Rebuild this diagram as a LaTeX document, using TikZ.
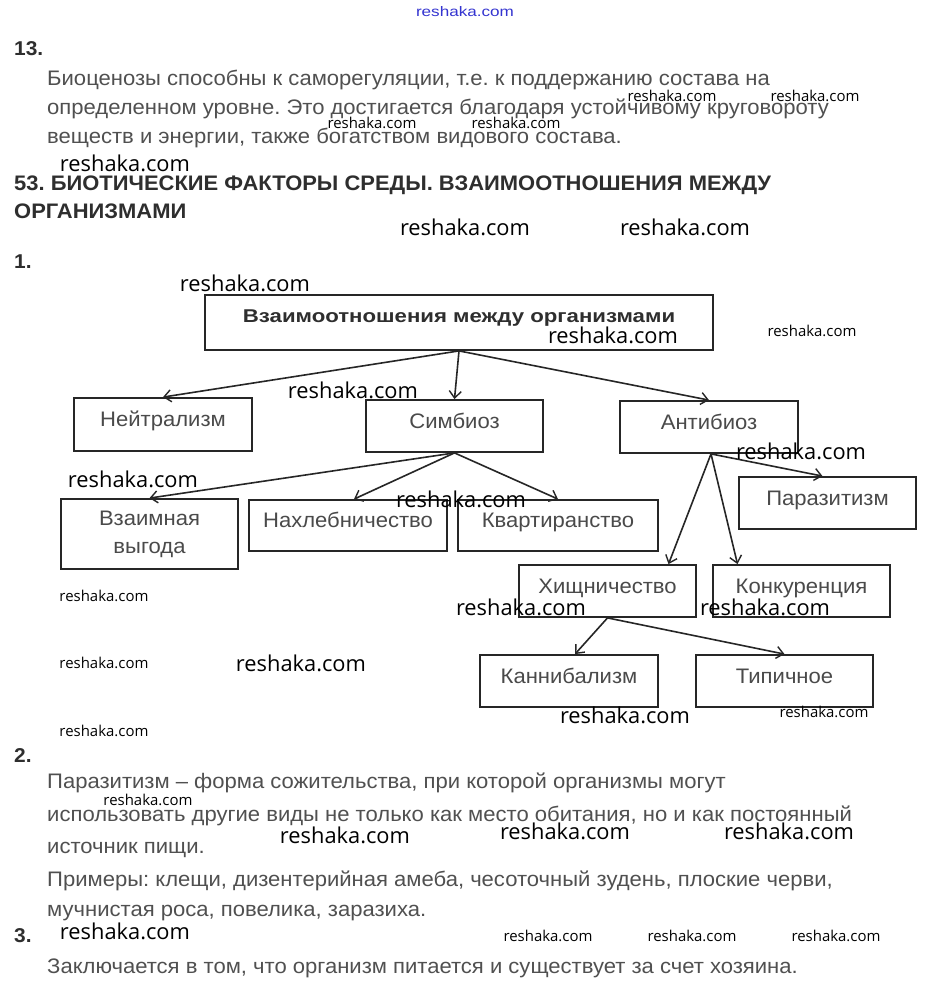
\documentclass[tikz,border=0pt]{standalone}
\usepackage{fontspec}
\setmainfont{Liberation Sans}
\newfontfamily\bodyfont[FakeStretch=1.05]{Liberation Sans}
\newfontfamily\headfont[FakeStretch=1.045]{Liberation Sans}
\newfontfamily\topfont[FakeStretch=1.2]{Liberation Sans}
\newfontfamily\boxfont[FakeStretch=1.05]{Liberation Sans}
\newfontfamily\wmfont{Open Sans}
\usetikzlibrary{arrows.meta,calc}
\definecolor{txtc}{HTML}{505050}
\definecolor{headc}{HTML}{2E2E2E}
\definecolor{edgec}{HTML}{262626}
\definecolor{boxtxt}{HTML}{4A4A4A}
\definecolor{wmblue}{HTML}{3434D0}
\newcommand\wmL[2]{\node[wm] (#1) at (#2) {\resizebox{130pt}{!}{reshaka.com}};}
\newcommand\wmS[2]{\node[wm] (#1) at (#2) {\resizebox{89pt}{!}{reshaka.com}};}
\begin{document}
\frenchspacing
\begin{tikzpicture}[x=1pt,y=-1pt,
  body/.style={anchor=base west,inner sep=0pt,text=txtc,font=\bodyfont\fontsize{21}{24}\selectfont},
  headtxt/.style={anchor=base west,inner sep=0pt,text=headc,font=\headfont\fontsize{21}{24}\selectfont\bfseries},
  num/.style={anchor=base west,inner sep=0pt,text=headc,font=\headfont\fontsize{20}{24}\selectfont\bfseries},
  box/.style={draw=edgec,line width=1.8pt,inner sep=0pt,text=boxtxt,font=\boxfont\fontsize{21}{28}\selectfont,text height=13pt,text depth=9pt},
  box2/.style={draw=edgec,line width=1.8pt,inner sep=0pt,text=boxtxt,font=\boxfont\fontsize{21}{28}\selectfont,align=center},
  arr/.style={draw=edgec,line width=1.6pt,-{Straight Barb[length=7pt,width=12pt,line width=1.4pt]}},
  wm/.style={inner sep=0pt,text=black,font=\wmfont}
]
\useasboundingbox (0,0) rectangle (926,988);
\fill[white] (0,0) rectangle (926,988);

% ---- text top
\node[num] (n13) at (14,55) {13.};
\node[body] (t1) at (47,85) {Биоценозы способны к саморегуляции, т.е. к поддержанию состава на};
\node[body] (t2) at (47,114) {определенном уровне. Это достигается благодаря устойчивому круговороту};
\node[body] (t3) at (47,143) {веществ и энергии, также богатством видового состава.};
\node[headtxt] (h1) at (14,190) {53. БИОТИЧЕСКИЕ ФАКТОРЫ СРЕДЫ. ВЗАИМООТНОШЕНИЯ МЕЖДУ};
\node[headtxt] (h2) at (14,218) {ОРГАНИЗМАМИ};
\node[num] (n1) at (14,268) {1.};

% ---- diagram
\node[box,minimum width=508pt,minimum height=55pt,text=headc,font=\topfont\fontsize{18.5}{24}\selectfont\bfseries,text height=13pt,text depth=13pt] (top) at (459,322.5) {Взаимоотношения между организмами};
\node[box,minimum width=178pt,minimum height=53pt] (neut) at (163,424.5) {Нейтрализм};
\node[box,minimum width=177pt,minimum height=52pt] (symb) at (454.5,426) {Симбиоз};
\node[box,minimum width=178pt,minimum height=52pt] (anti) at (709,427) {Антибиоз};
\node[box2,minimum width=177pt,minimum height=70pt] (mutu) at (149.5,534) {\raisebox{-2pt}{Взаимная}\\\raisebox{-2pt}{выгода}};
\node[box,minimum width=198pt,minimum height=51pt] (nakh) at (348,525.5) {Нахлебничество};
\node[box,minimum width=200pt,minimum height=51pt] (kvar) at (558,525.5) {Квартиранство};
\node[box,minimum width=177pt,minimum height=52pt] (para) at (827.5,503) {Паразитизм};
\node[box,minimum width=177pt,minimum height=52pt] (pred) at (607.5,591) {Хищничество};
\node[box,minimum width=177pt,minimum height=52pt] (comp) at (801.5,591) {Конкуренция};
\node[box,minimum width=178pt,minimum height=52pt] (cann) at (569,681) {Каннибализм};
\node[box,minimum width=177pt,minimum height=52pt] (typi) at (784.5,681) {Типичное};

\draw[arr] (top.south) -- (neut.north);
\draw[arr] (top.south) -- (symb.north);
\draw[arr] (top.south) -- (anti.north);
\draw[arr] (symb.south) -- (mutu.north);
\draw[arr] (symb.south) -- ($(nakh.north)+(6,0)$);
\draw[arr] (symb.south) -- (kvar.north);
\draw[arr] ($(anti.south)+(2,0)$) -- ($(para.north)+(-5,0)$);
\draw[arr] ($(anti.south)+(2,0)$) -- ($(pred.north)+(61,0)$);
\draw[arr] ($(anti.south)+(2,0)$) -- ($(comp.north)+(-64,0)$);
\draw[arr] (pred.south) -- ($(cann.north)+(6,0)$);
\draw[arr] (pred.south) -- (typi.north);

% ---- text bottom
\node[num] (n2) at (14,762) {2.};
\node[body] (p1) at (47,788) {Паразитизм – форма сожительства, при которой организмы могут};
\node[body] (p2) at (47,821) {использовать другие виды не только как место обитания, но и как постоянный};
\node[body] (p3) at (47,853) {источник пищи.};
\node[body] (p4) at (47,886) {Примеры: клещи, дизентерийная амеба, чесоточный зудень, плоские черви,};
\node[body] (p5) at (47,916) {мучнистая роса, повелика, заразиха.};
\node[num] (n3) at (14,942) {3.};
\node[body] (p6) at (47,973) {Заключается в том, что организм питается и существует за счет хозяина.};

% ---- watermarks
\node[inner sep=0pt,text=wmblue] (w0) at (465,12) {\resizebox{98pt}{10pt}{reshaka.com}};
\wmS{w1}{672,96}
\wmS{w2}{815,96}
\wmS{w3}{372,123}
\wmS{w4}{516,123}
\wmL{w5}{125,163}
\wmL{w6}{465,227}
\wmL{w7}{685,227}
\wmL{w8}{245,283}
\wmL{w9}{613,335}
\wmS{w10}{812,331}
\wmL{w11}{353,390}
\wmL{w12}{801,451}
\wmL{w13}{133,479}
\wmL{w14}{461,499}
\wmS{w15}{104,596}
\wmL{w16}{521,607}
\wmL{w17}{765,607}
\wmS{w18}{104,663}
\wmL{w19}{301,663}
\wmL{w20}{625,715}
\wmS{w21}{824,712}
\wmS{w22}{104,731}
\wmS{w23}{148,800}
\wmL{w24}{345,835}
\wmL{w25}{565,831}
\wmL{w26}{789,831}
\wmL{w27}{125,931}
\wmS{w28}{548,936}
\wmS{w29}{692,936}
\wmS{w30}{836,936}
\end{tikzpicture}
\end{document}
